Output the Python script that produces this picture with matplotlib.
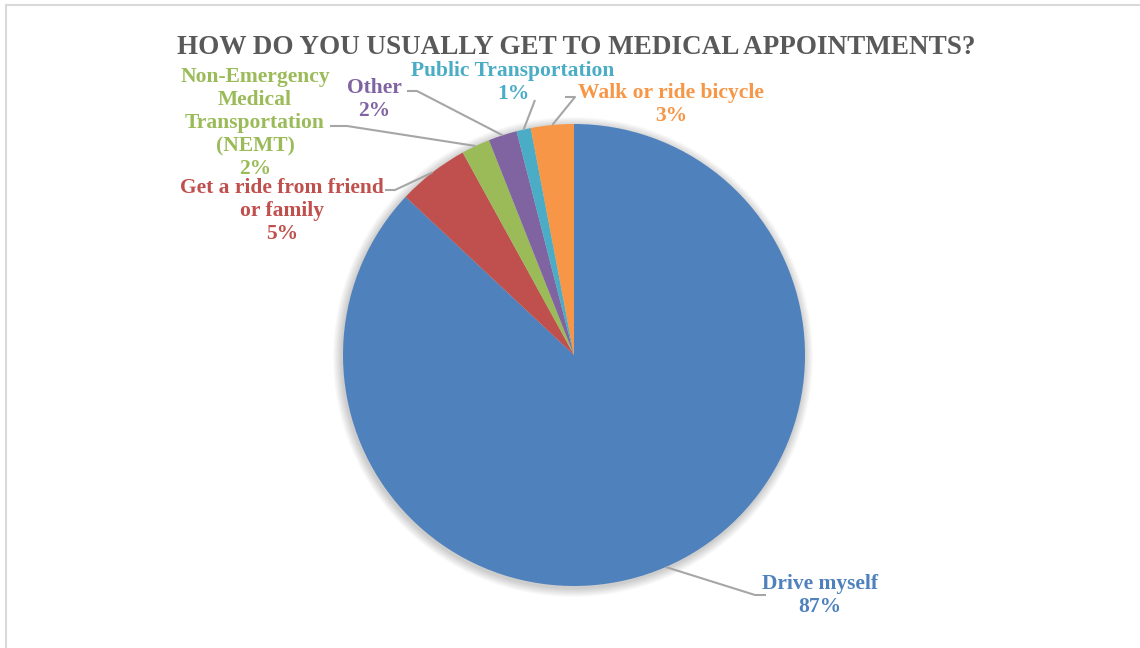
import numpy as np
import matplotlib
matplotlib.use("Agg")
import matplotlib.pyplot as plt
from matplotlib.patches import Circle

categories = ["Drive myself", "Get a ride from friend\nor family",
              "Non-Emergency\nMedical\nTransportation\n(NEMT)", "Other",
              "Public Transportation", "Walk or ride bicycle"]
shares = [87, 5, 2, 2, 1, 3]
colors = ["#4F81BD", "#C0504D", "#9BBB59", "#8064A2", "#4BACC6", "#F79646"]
title = "HOW DO YOU USUALLY GET TO MEDICAL APPOINTMENTS?"

W, H = 1140, 648
fig = plt.figure(figsize=(W / 100, H / 100), dpi=100)
ax = fig.add_axes([0, 0, 1, 1])

FONT = ["Liberation Serif", "DejaVu Serif"]

cx, cy, r = 574, H - 355, 231

# soft drop shadow behind the pie
for k in range(10, 0, -1):
    ax.add_patch(Circle((cx - 1, cy - 2), r + k * 0.9, color="black",
                        alpha=0.018, lw=0, zorder=1))

wedges, _ = ax.pie(shares, colors=colors, startangle=90, counterclock=False,
                   center=(cx, cy), radius=r,
                   wedgeprops=dict(linewidth=0, zorder=2))
ax.set_xlim(0, W)
ax.set_ylim(0, H)
ax.set_aspect("equal")
ax.axis("off")

# label centre x, baseline of the first line, and leader-line elbow/stub
# (pixel coordinates, y measured downwards)
label_pos = [(820, 589), (282, 193), (255, 82), (374, 93), (513, 76), (671, 98)]
leaders = [
    [(755, 595), (766, 595)],
    [(395, 190), (385, 190)],
    [(347, 126), (330, 126)],
    [(417, 91), (407, 91)],
    [(535, 100)],
    [(575, 97), (565, 97)],
]
PITCH = 23

for w, name, val, col, (lx, ly), pts in zip(wedges, categories, shares, colors,
                                            label_pos, leaders):
    mid = np.deg2rad((w.theta1 + w.theta2) / 2)
    ex, ey = cx + r * np.cos(mid), cy + r * np.sin(mid)
    xs = [ex] + [p[0] for p in pts]
    ys = [ey] + [H - p[1] for p in pts]
    ax.plot(xs, ys, color="#A6A6A6", lw=1.5, zorder=3, solid_capstyle="butt")
    lines = name.split("\n") + [f"{val}%"]
    for i, line in enumerate(lines):
        ax.text(lx, H - (ly + i * PITCH), line, ha="center", va="baseline",
                color=col, fontsize=15.5, fontweight="bold", family=FONT,
                zorder=4)

ax.text(576, H - 54, title, ha="center", va="baseline", color="#595959",
        fontsize=19.5, fontweight="bold", family=FONT)

# thin chart-area frame along the top and left
fig.add_artist(plt.Line2D([6 / W, 1], [1 - 5 / H, 1 - 5 / H], color="#D9D9D9",
                          lw=1.5, transform=fig.transFigure))
fig.add_artist(plt.Line2D([6 / W, 6 / W], [0, 1 - 5 / H], color="#D9D9D9",
                          lw=1.5, transform=fig.transFigure))

fig.savefig("out.png", dpi=100, facecolor="white")
